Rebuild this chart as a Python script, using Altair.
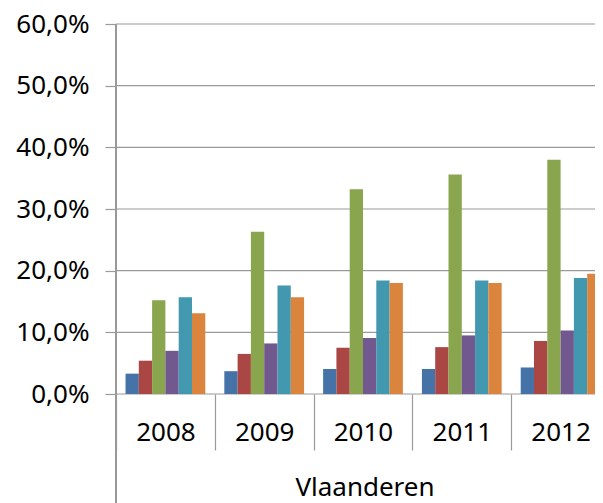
import altair as alt
import pandas as pd

years = ["2008", "2009", "2010", "2011", "2012"]
series = ["Reeks 1", "Reeks 2", "Reeks 3", "Reeks 4", "Reeks 5", "Reeks 6"]
colors = ["#4572A7", "#AA4643", "#89A54E", "#71588F", "#4198AF", "#DB843D"]
values = {
    "Reeks 1": [3.3, 3.7, 4.05, 4.05, 4.3],
    "Reeks 2": [5.4, 6.5, 7.5, 7.6, 8.6],
    "Reeks 3": [15.2, 26.3, 33.2, 35.6, 38.0],
    "Reeks 4": [7.0, 8.2, 9.1, 9.5, 10.3],
    "Reeks 5": [15.7, 17.6, 18.4, 18.4, 18.8],
    "Reeks 6": [13.1, 15.7, 18.0, 18.0, 19.5],
}
y_ticks = [0, 10, 20, 30, 40, 50, 60]
group_label = "Vlaanderen"

rows = []
for s in series:
    for y, v in zip(years, values[s]):
        rows.append({"year": y, "series": s, "value": v})
df = pd.DataFrame(rows)
grid_df = pd.DataFrame({"tick": y_ticks})

FONT = "Noto Sans"
FS = 26
GRAY = "#9a9a9a"
FULL_W = 494

yscale = alt.Scale(domain=[0, 60], nice=False, zero=True)

grid = alt.Chart(grid_df).mark_rule(color=GRAY, strokeWidth=1.2).encode(
    y=alt.Y("tick:Q", scale=yscale),
    x=alt.value(0),
    x2=alt.value(FULL_W),
)

bars = alt.Chart(df).mark_bar().encode(
    x=alt.X(
        "year:N",
        sort=years,
        scale=alt.Scale(range=[0, FULL_W], paddingInner=0, paddingOuter=0),
        axis=alt.Axis(
            title=group_label,
            titleFont=FONT,
            titleFontSize=FS,
            titleFontWeight="normal",
            titleColor="black",
            titleX=248.5,
            titleY=93,
            titleBaseline="middle",
            labelAngle=0,
            labelFont=FONT,
            labelFontSize=FS,
            labelColor="black",
            labelBaseline="middle",
            labelPadding=-18,
            tickBand="extent",
            tickSize=56,
            tickColor=GRAY,
            tickWidth=1.2,
            domain=False,
            grid=False,
        ),
    ),
    xOffset=alt.XOffset(
        "series:N",
        sort=series,
        scale=alt.Scale(paddingOuter=0.716, paddingInner=0),
    ),
    y=alt.Y(
        "value:Q",
        scale=yscale,
        axis=alt.Axis(
            title=None,
            values=y_ticks,
            labelExpr="replace(format(datum.value, '.1f'), '.', ',') + '%'",
            labelFont=FONT,
            labelFontSize=FS,
            labelColor="black",
            labelPadding=16,
            tickSize=11,
            tickColor=GRAY,
            tickWidth=1.2,
            domain=False,
            grid=False,
        ),
    ),
    color=alt.Color("series:N", sort=series, scale=alt.Scale(domain=series, range=colors), legend=None),
)

yline = alt.Chart(grid_df).mark_rule(color=GRAY, strokeWidth=1.2).encode(
    x=alt.value(0),
    y=alt.value(0),
    y2=alt.value(490),
)

chart = alt.layer(grid, bars, yline).properties(
    width=479,
    height=370,
    padding={"left": 108, "top": 16, "right": 0, "bottom": 109},
    autosize=alt.AutoSizeParams(type="none"),
).configure_view(stroke=None)

chart.save("out.html", embed_options={"renderer": "svg", "actions": False})
